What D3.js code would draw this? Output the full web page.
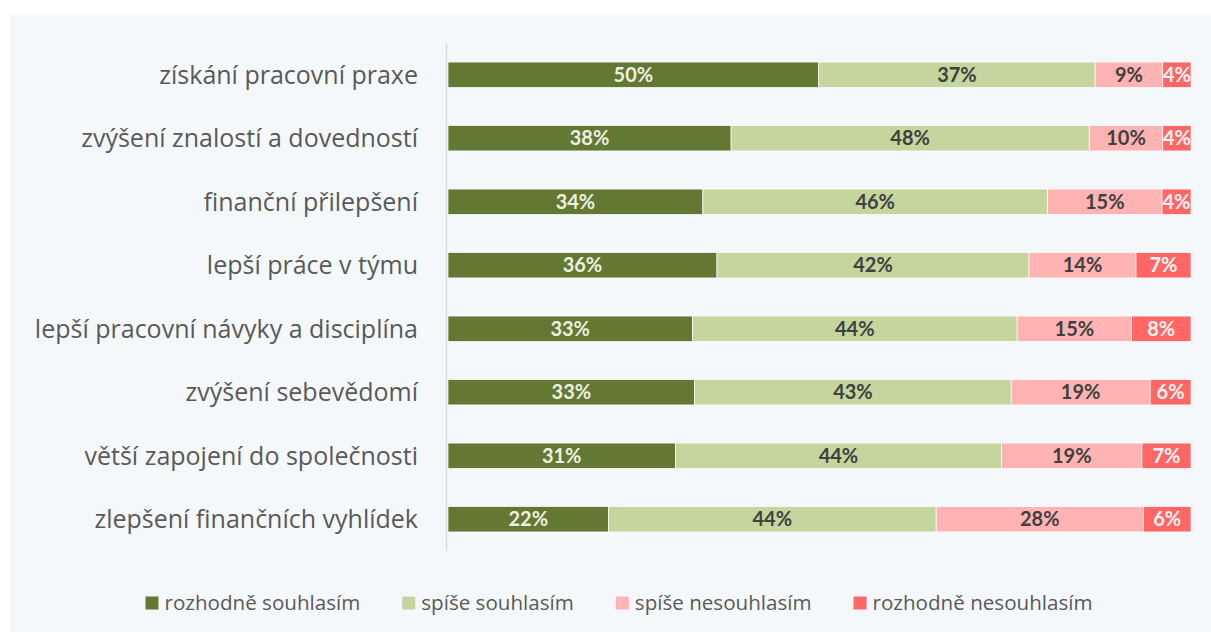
<!DOCTYPE html>
<html>
<head>
<meta charset="utf-8">
<script src="https://cdn.jsdelivr.net/npm/d3@7"></script>
<style>
  html, body { margin: 0; padding: 0; background: #ffffff; }
  svg { display: block; }
  .cat-label { font-family: "Open Sans", Lato, sans-serif; font-size: 25px; fill: #595959; }
  .val-label { font-family: Lato, "Open Sans", sans-serif; font-size: 20px; font-weight: bold; }
  .legend-label { font-family: "Open Sans", Lato, sans-serif; font-size: 20.6px; fill: #595959; }
</style>
</head>
<body>
<div id="chart"></div>
<script>
// Categories (top to bottom)
var categories = [
  'získání pracovní praxe',
  'zvýšení znalostí a dovedností',
  'finanční přilepšení',
  'lepší práce v týmu',
  'lepší pracovní návyky a disciplína',
  'zvýšení sebevědomí',
  'větší zapojení do společnosti',
  'zlepšení finančních vyhlídek'
];

// Series names (legend order)
var seriesNames = ['rozhodně souhlasím', 'spíše souhlasím', 'spíše nesouhlasím', 'rozhodně nesouhlasím'];

// Series values in percent, one per category
var stronglyAgree    = [49.9, 38.1, 34.3, 36.2, 32.9, 33.2, 30.6, 21.6];
var ratherAgree      = [37.2, 48.2, 46.4, 42.0, 43.7, 42.6, 43.9, 44.1];
var ratherDisagree   = [ 9.1,  9.9, 15.4, 14.4, 15.4, 18.7, 18.9, 27.9];
var stronglyDisagree = [ 3.8,  3.8,  3.9,  7.4,  8.0,  5.5,  6.6,  6.4];

var seriesColors = ['#637832', '#c4d69d', '#ffb3b3', '#ff6666'];
var labelColors  = ['#eef0e0', '#404040', '#404040', '#fff4f4'];

var W = 1211, H = 632;
var margin = {top: 43, right: 20, bottom: 81, left: 448};
var plotW = 1191 - margin.left;
var plotH = H - margin.top - margin.bottom;

var rows = categories.map(function(c, i) {
  return {
    cat: c,
    s0: stronglyAgree[i], s1: ratherAgree[i], s2: ratherDisagree[i], s3: stronglyDisagree[i]
  };
});
var keys = ['s0', 's1', 's2', 's3'];
var stacked = d3.stack().keys(keys)(rows);

var x = d3.scaleLinear().domain([0, 100]).range([0, plotW]);
var y = d3.scaleBand().domain(categories).range([0, plotH]).paddingInner(0.6).paddingOuter(0.3);

var svg = d3.select('#chart').append('svg')
  .attr('width', W).attr('height', H)
  .attr('xmlns', 'http://www.w3.org/2000/svg');

// panel background
svg.append('rect')
  .attr('x', 10).attr('y', 14)
  .attr('width', W - 10).attr('height', H - 14)
  .attr('fill', '#f5f8fb');

var g = svg.append('g')
  .attr('transform', 'translate(' + margin.left + ',' + margin.top + ')');

// bars
var layers = g.selectAll('g.layer')
  .data(stacked)
  .enter().append('g')
  .attr('class', 'layer')
  .attr('fill', function(d, i) { return seriesColors[i]; });

layers.selectAll('rect')
  .data(function(d) { return d; })
  .enter().append('rect')
  .attr('x', function(d) { return x(d[0]); })
  .attr('y', function(d) { return y(d.data.cat); })
  .attr('width', function(d) { return x(d[1]) - x(d[0]); })
  .attr('height', y.bandwidth())
  .attr('stroke', '#ffffff')
  .attr('stroke-width', 0.7);

// value labels
layers.each(function(layer, li) {
  d3.select(this).selectAll('text')
    .data(layer)
    .enter().append('text')
    .attr('class', 'val-label')
    .attr('x', function(d) { return (x(d[0]) + x(d[1])) / 2; })
    .attr('y', function(d) { return y(d.data.cat) + y.bandwidth() / 2; })
    .attr('dy', '0.36em')
    .attr('text-anchor', 'middle')
    .attr('fill', labelColors[li])
    .text(function(d) { return Math.round(d[1] - d[0]) + '%'; });
});

// category axis line
g.append('line')
  .attr('x1', -1.5).attr('x2', -1.5)
  .attr('y1', 0).attr('y2', plotH)
  .attr('stroke', '#d9d9d9')
  .attr('stroke-width', 1.5);

// category labels
g.selectAll('text.cat-label')
  .data(categories)
  .enter().append('text')
  .attr('class', 'cat-label')
  .attr('x', -30)
  .attr('y', function(d) { return y(d) + y.bandwidth() / 2; })
  .attr('dy', '0.35em')
  .attr('text-anchor', 'end')
  .text(function(d) { return d; });

// legend
var legend = svg.append('g').attr('transform', 'translate(0,603)');
var items = legend.selectAll('g.item')
  .data(seriesNames)
  .enter().append('g')
  .attr('class', 'item');
items.append('rect')
  .attr('x', 0).attr('y', -6.5)
  .attr('width', 13).attr('height', 13)
  .attr('fill', function(d, i) { return seriesColors[i]; });
items.append('text')
  .attr('class', 'legend-label')
  .attr('x', 19)
  .attr('dy', '0.35em')
  .text(function(d) { return d; });

var offset = 0, gap = 42;
var widths = [];
items.each(function() { widths.push(this.getBBox().width); });
var totalW = d3.sum(widths) + gap * (widths.length - 1);
var startX = 619 - totalW / 2;
items.attr('transform', function(d, i) {
  var tx = startX + offset;
  offset += widths[i] + gap;
  return 'translate(' + tx + ',0)';
});
</script>
</body>
</html>
